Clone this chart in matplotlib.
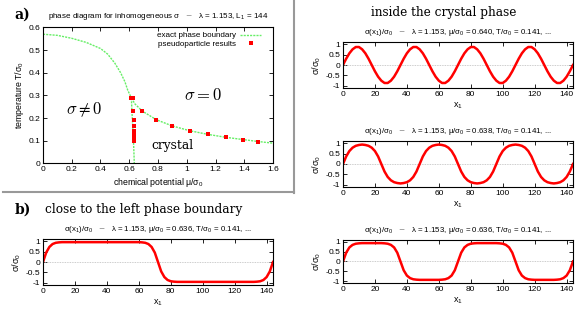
import numpy as np
import matplotlib
matplotlib.use("Agg")
from matplotlib import pyplot as plt
from matplotlib.lines import Line2D

plt.rcParams['font.family'] = ['Liberation Sans', 'DejaVu Sans']
plt.rcParams['mathtext.fontset'] = 'cm'

# phase boundary
mu_left = [0.0, 0.1, 0.2, 0.3, 0.4, 0.45, 0.5, 0.54, 0.57, 0.59, 0.605, 0.615]
T_left = [0.570, 0.565, 0.552, 0.534, 0.507, 0.482, 0.442, 0.400, 0.360, 0.322, 0.302, 0.288]
mu_right = [0.615, 0.64, 0.69, 0.79, 0.9, 1.02, 1.145, 1.27, 1.39, 1.5, 1.6]
T_right = [0.288, 0.262, 0.231, 0.192, 0.165, 0.144, 0.128, 0.115, 0.105, 0.096, 0.089]
mu_vert = [0.615, 0.618, 0.622, 0.626, 0.63, 0.633, 0.635]
T_vert = [0.288, 0.24, 0.19, 0.14, 0.09, 0.04, 0.0]

# pseudoparticle results
mu_pp = [0.61, 0.624, 0.628, 0.631, 0.632, 0.633, 0.633, 0.633, 0.633, 0.634, 0.634,
         0.687, 0.784, 0.9, 1.02, 1.145, 1.27, 1.39, 1.495]
T_pp = [0.288, 0.288, 0.231, 0.192, 0.165, 0.144, 0.133, 0.123, 0.115, 0.105, 0.097,
        0.231, 0.192, 0.165, 0.144, 0.128, 0.115, 0.105, 0.096]

# sigma profiles, x1 = 0, 2, ..., 144
x1 = np.arange(0, 145, 2)
sig_640 = [0, .30, .56, .75, .86, .86, .75, .56, .30, 0, -.30, -.56, -.75, -.86, -.86, -.75, -.56, -.30,
           0, .30, .56, .75, .86, .86, .75, .56, .30, 0, -.30, -.56, -.75, -.86, -.86, -.75, -.56, -.30,
           0, .30, .56, .75, .86, .86, .75, .56, .30, 0, -.30, -.56, -.75, -.86, -.86, -.75, -.56, -.30,
           0, .30, .56, .75, .86, .86, .75, .56, .30, 0, -.30, -.56, -.75, -.86, -.86, -.75, -.56, -.30,
           0]
sig_638 = [0, .36, .62, .78, .87, .91, .93, .91, .87, .78, .62, .36,
           0, -.36, -.62, -.78, -.87, -.91, -.93, -.91, -.87, -.78, -.62, -.36,
           0, .36, .62, .78, .87, .91, .93, .91, .87, .78, .62, .36,
           0, -.36, -.62, -.78, -.87, -.91, -.93, -.91, -.87, -.78, -.62, -.36,
           0, .36, .62, .78, .87, .91, .93, .91, .87, .78, .62, .36,
           0, -.36, -.62, -.78, -.87, -.91, -.93, -.91, -.87, -.78, -.62, -.36,
           0]
sig_636a = [0, .45, .72, .85, .91, .93, .94, .94, .94, .94, .94, .94, .94, .93, .91, .85, .72, .45,
            0, -.45, -.72, -.85, -.91, -.93, -.94, -.94, -.94, -.94, -.94, -.94, -.94, -.93, -.91, -.85, -.72, -.45,
            0, .45, .72, .85, .91, .93, .94, .94, .94, .94, .94, .94, .94, .93, .91, .85, .72, .45,
            0, -.45, -.72, -.85, -.91, -.93, -.94, -.94, -.94, -.94, -.94, -.94, -.94, -.93, -.91, -.85, -.72, -.45,
            0]
sig_636b = [0, .45, .72, .86, .92, .94, .95, .95, .95, .95, .95, .95, .95, .95, .95, .95, .95, .95,
            .95, .95, .95, .95, .95, .95, .95, .95, .95, .95, .95, .95, .95, .94, .92, .86, .72, .45,
            0, -.45, -.72, -.86, -.92, -.94, -.95, -.95, -.95, -.95, -.95, -.95, -.95, -.95, -.95, -.95, -.95, -.95,
            -.95, -.95, -.95, -.95, -.95, -.95, -.95, -.95, -.95, -.95, -.95, -.95, -.95, -.94, -.92, -.86, -.72, -.45,
            0]

fig = plt.figure(figsize=(5.88, 3.17), dpi=100)

green = '#66ee66'

# ---- panel a) phase diagram ----
ax = fig.add_axes([0.0731, 0.4848, 0.3912, 0.4287])
ax.plot(mu_left, T_left, color=green, lw=1.0, ls=(0, (1.5, 0.8)))
ax.plot(mu_right, T_right, color=green, lw=1.0, ls=(0, (1.5, 0.8)))
ax.plot(mu_vert, T_vert, color=green, lw=1.0, ls=(0, (1.5, 0.8)))
ax.plot(mu_pp, T_pp, 's', color='red', ms=3.4, mew=0)
ax.set_xlim(0, 1.6)
ax.set_ylim(0, 0.6)
ax.set_xticks([0, 0.2, 0.4, 0.6, 0.8, 1, 1.2, 1.4, 1.6])
ax.set_xticklabels(['0', '0.2', '0.4', '0.6', '0.8', '1', '1.2', '1.4', '1.6'])
ax.set_yticks([0, 0.1, 0.2, 0.3, 0.4, 0.5, 0.6])
ax.set_yticklabels(['0', '0.1', '0.2', '0.3', '0.4', '0.5', '0.6'])
ax.tick_params(direction='in', top=True, right=True, labelsize=6, length=3, width=0.6, pad=2)
for s in ax.spines.values():
    s.set_linewidth(0.8)
ax.set_xlabel(r'chemical potential $\mathregular{\mu/\sigma_0}$', fontsize=6.3, labelpad=2)
ax.set_ylabel(r'temperature $\mathregular{T/\sigma_0}$', fontsize=6.3, labelpad=2)
ax.set_title(r'phase diagram for inhomogeneous $\mathregular{\sigma}$   $-$   $\mathregular{\lambda}$ = 1.153, L$_\mathregular{1}$ = 144',
             fontsize=5.8, pad=7)
h1 = Line2D([], [], color=green, lw=1.0, ls=(0, (1.5, 0.8)))
h2 = Line2D([], [], marker='s', color='red', ls='none', ms=3.4, mew=0)
ax.legend([h1, h2], ['exact phase boundary', 'pseudoparticle results'], loc='upper right',
          bbox_to_anchor=(0.965, 0.995), frameon=False, fontsize=5.8, markerfirst=False,
          handlelength=2.6, labelspacing=0.15, borderaxespad=0.05, handletextpad=0.6)
ax.text(0.29, 0.236, r'$\sigma \neq 0$', fontsize=12, ha='center', va='center')
ax.text(1.11, 0.302, r'$\sigma = 0$', fontsize=12, ha='center', va='center')
ax.text(0.9, 0.077, 'crystal', fontsize=8.8, ha='center', va='center', family='DejaVu Serif')

fig.text(0.025, 0.955, 'a)', fontsize=10, fontweight='bold', family='DejaVu Serif', va='center')
# shadow frame of panel a)
fig.add_artist(Line2D([0.5, 0.5], [0.392, 1.0], color='#999999', lw=1.5, transform=fig.transFigure))
fig.add_artist(Line2D([0.005, 0.5], [0.394, 0.394], color='#999999', lw=1.5, transform=fig.transFigure))

fig.text(0.755, 0.96, 'inside the crystal phase', fontsize=8.7, ha='center', va='center', family='DejaVu Serif')
fig.text(0.025, 0.34, 'b)', fontsize=10, fontweight='bold', family='DejaVu Serif', va='center')
fig.text(0.244, 0.34, 'close to the left phase boundary', fontsize=8.7, ha='center', va='center', family='DejaVu Serif')


def wave(rect, y, mu_txt):
    a = fig.add_axes(rect)
    a.axhline(0, color='#bbbbbb', lw=0.6, ls=(0, (1, 1)))
    a.plot(x1, y, color='red', lw=1.8)
    a.set_xlim(0, 144)
    a.set_ylim(-1.1, 1.1)
    a.set_xticks([0, 20, 40, 60, 80, 100, 120, 140])
    a.set_yticks([-1, -0.5, 0, 0.5, 1])
    a.set_yticklabels(['-1', '-0.5', '0', '0.5', '1'])
    a.tick_params(direction='in', top=True, right=True, labelsize=6, length=3, width=0.6, pad=2)
    for s in a.spines.values():
        s.set_linewidth(0.8)
    a.set_xlabel(r'x$_\mathregular{1}$', fontsize=6.5, labelpad=2)
    a.set_ylabel(r'$\mathregular{\sigma/\sigma_0}$', fontsize=6.5, labelpad=2)
    a.set_title(r'$\mathregular{\sigma(x_1)/\sigma_0}$   $-$   $\mathregular{\lambda}$ = 1.153, $\mathregular{\mu/\sigma_0}$ = '
                + mu_txt + r', T/$\mathregular{\sigma_0}$ = 0.141, ...', fontsize=5.7, pad=6)
    return a


wave([0.5833, 0.7224, 0.3912, 0.1451], sig_640, '0.640')
wave([0.5833, 0.4101, 0.3912, 0.1451], sig_638, '0.638')
wave([0.5833, 0.1073, 0.3912, 0.1356], sig_636a, '0.636')
wave([0.0731, 0.1009, 0.3912, 0.1451], sig_636b, '0.636')

fig.savefig('out.png', dpi=100)
